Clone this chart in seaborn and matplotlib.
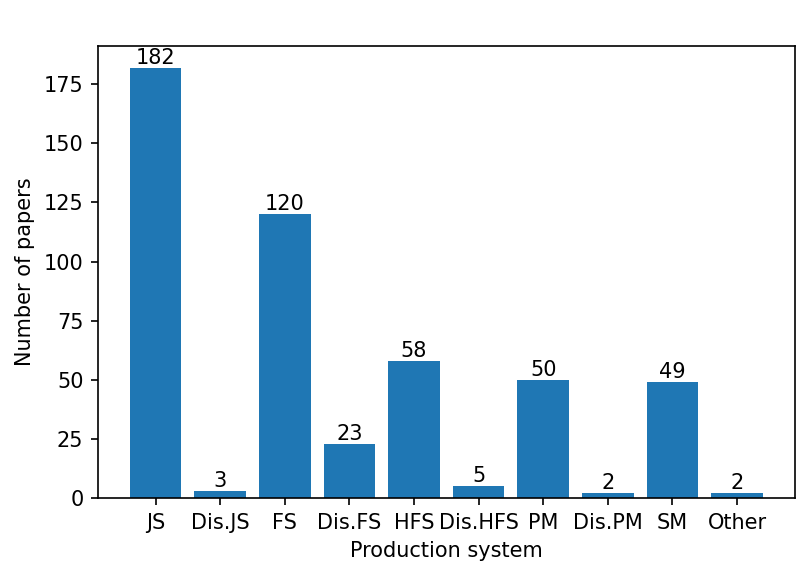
import matplotlib
matplotlib.use("Agg")
import matplotlib.pyplot as plt
import seaborn as sns
import pandas as pd

categories = ["JS", "Dis.JS", "FS", "Dis.FS", "HFS", "Dis.HFS", "PM", "Dis.PM", "SM", "Other"]
papers = [182, 3, 120, 23, 58, 5, 50, 2, 49, 2]

df = pd.DataFrame({"Production system": categories, "Number of papers": papers})

fig = plt.figure(figsize=(5.4, 577 / 150), dpi=150)
ax = fig.add_axes([0.121, 0.137, 0.860, 0.783])
sns.barplot(data=df, x="Production system", y="Number of papers", color="#1f77b4",
            saturation=1, width=0.8, ax=ax)
for c in ax.containers:
    ax.bar_label(c, fontsize=10)
n = len(categories)
ax.set_xlim(-0.89, n - 1 + 0.89)
ax.set_ylim(0, 191.1)
ax.set_yticks([0, 25, 50, 75, 100, 125, 150, 175])
ax.set_xlabel("Production system")
ax.set_ylabel("Number of papers")
fig.savefig("out.png", dpi=150)
